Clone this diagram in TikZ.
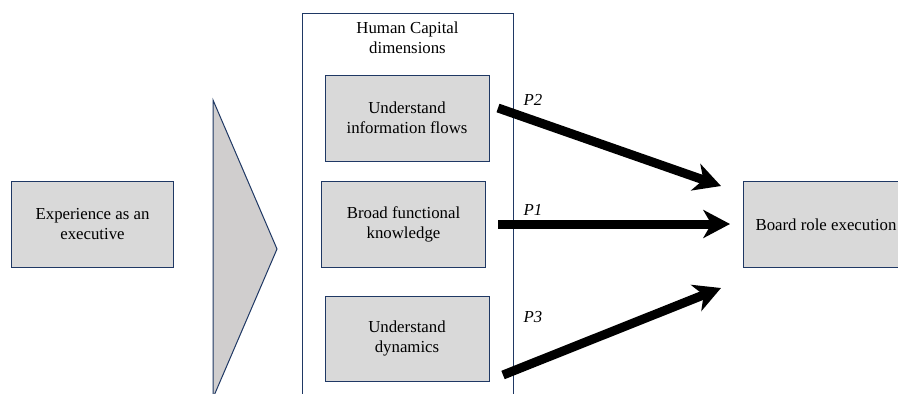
\documentclass[tikz,border=0pt]{standalone}
\usepackage{fontspec}
\setmainfont{Liberation Serif}
\newfontfamily\timesfont{Liberation Serif}
\usetikzlibrary{arrows.meta}
\definecolor{navy}{HTML}{1F3864}
\definecolor{boxgray}{HTML}{D9D9D9}
\definecolor{chevgray}{HTML}{D0CECE}
\begin{document}
\begin{tikzpicture}[x=0.75pt,y=-0.75pt,
  txt/.style={font=\timesfont\fontsize{12.6}{15}\selectfont, align=center},
  hcbox/.style={txt, draw=navy, line width=0.75pt, fill=boxgray, inner sep=0pt,
    minimum width=123pt, minimum height=64.5pt},
  frame/.style={draw=navy, line width=0.75pt, inner sep=0pt},
  plabel/.style={font=\timesfont\fontsize{12.6}{15}\selectfont\itshape},
  bigarrow/.style={line width=6.75pt, -{Stealth[length=20pt, width=21pt, inset=6pt]}}]
  \clip (0,0) rectangle (898,393);
  % input box
  \node[hcbox, minimum width=122pt] (exp) at (92.5,224) {Experience as an\\executive};
  % chevron
  \draw[draw=navy, line width=0.75pt, fill=chevgray] (213,100) -- (277,249) -- (213,398) -- cycle;
  % human capital container
  \node[frame, minimum width=158.25pt, minimum height=297.75pt] (hc) at (407.5,211.5) {};
  \node[txt] (hctitle) at (407.5,38) {Human Capital\\dimensions};
  \node[hcbox] (info) at (407,118) {Understand\\information flows};
  \node[hcbox] (func) at (403.5,224) {Broad functional\\knowledge};
  \node[hcbox, minimum height=63.75pt] (dyn) at (407,338.5) {Understand\\dynamics};
  % outcome box
  \node[hcbox, minimum width=124.5pt] (board) at (826,224.5) {Board role execution};
  % propositions
  \coordinate (s2) at (498,108);
  \coordinate (s1) at (498,224);
  \coordinate (s3) at (503,375);
  \coordinate (t2) at (721,186);
  \coordinate (t1) at (730,224);
  \coordinate (t3) at (721,288);
  \draw[bigarrow] (s2) -- (t2);
  \draw[bigarrow] (s1) -- (t1);
  \draw[bigarrow] (s3) -- (t3);
  \node[plabel] (p2) at (533,100) {P2};
  \node[plabel] (p1) at (533,210) {P1};
  \node[plabel] (p3) at (533,317) {P3};
\end{tikzpicture}
\end{document}
